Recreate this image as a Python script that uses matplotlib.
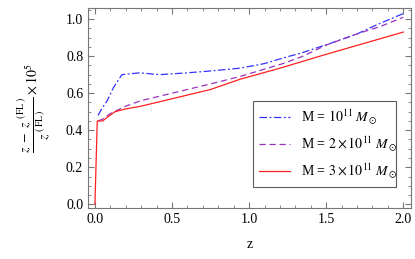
import numpy as np
import matplotlib.pyplot as plt
from matplotlib.ticker import MultipleLocator

plt.rcParams['font.family'] = ['Liberation Serif', 'DejaVu Serif']
plt.rcParams['mathtext.fontset'] = 'stix'

# values
z1 = [0.02, 0.04, 0.08, 0.12, 0.175, 0.29, 0.42, 0.6, 0.75, 0.94, 1.1, 1.22, 1.35, 1.53, 1.7, 1.83, 2.0]
y1 = [0.48, 0.51, 0.56, 0.63, 0.70, 0.71, 0.70, 0.71, 0.72, 0.735, 0.76, 0.79, 0.82, 0.87, 0.92, 0.97, 1.03]

z2 = [0.02, 0.05, 0.1, 0.2, 0.3, 0.5, 0.75, 0.94, 1.1, 1.22, 1.35, 1.5, 1.7, 1.85, 2.0]
y2 = [0.45, 0.46, 0.49, 0.53, 0.56, 0.60, 0.65, 0.69, 0.73, 0.76, 0.80, 0.86, 0.92, 0.96, 1.01]

z3 = [0.0, 0.015, 0.05, 0.08, 0.13, 0.2, 0.3, 0.35, 0.5, 0.75, 0.94, 1.2, 1.5, 1.75, 2.0]
y3 = [0.0, 0.45, 0.45, 0.47, 0.50, 0.515, 0.53, 0.54, 0.57, 0.62, 0.675, 0.735, 0.81, 0.87, 0.93]

labels = [r'M = $10^{11}\ M_\odot$', r'M = $2\times10^{11}\ M_\odot$', r'M = $3\times10^{11}\ M_\odot$']

fig = plt.figure(figsize=(4.15, 2.59), dpi=100)
ax = fig.add_axes([88/415, 51/259, 323/415, 200/259])

ax.plot(z1, y1, color='#3333ff', lw=0.9, dashes=[6, 2, 1.5, 2], label=labels[0])
ax.plot(z2, y2, color='#9933bb', lw=0.9, dashes=[5, 3], label=labels[1])
ax.plot(z3, y3, color='#ff2020', lw=0.9, label=labels[2])

ax.set_xlim(-0.045, 2.05)
ax.set_ylim(-0.02, 1.06)
ax.xaxis.set_major_locator(MultipleLocator(0.5))
ax.xaxis.set_minor_locator(MultipleLocator(0.1))
ax.yaxis.set_major_locator(MultipleLocator(0.2))
ax.yaxis.set_minor_locator(MultipleLocator(0.05))
ax.xaxis.set_major_formatter(plt.FormatStrFormatter('%.1f'))
ax.yaxis.set_major_formatter(plt.FormatStrFormatter('%.1f'))
ax.tick_params(which='both', direction='in', top=True, right=True, color='#777777', labelsize=10)
ax.tick_params(which='major', length=4)
ax.tick_params(which='minor', length=2)
for s in ax.spines.values():
    s.set_color('#777777')
    s.set_linewidth(0.8)

ax.set_xlabel('z', fontsize=10, labelpad=9)
ax.set_ylabel(r'$\dfrac{z\ -\ z^{\ (\,\mathrm{FL}\,)}}{z^{\ (\,\mathrm{FL}\,)}}\times10^{5}$', fontsize=10, labelpad=10)

leg = ax.legend(loc='lower left', bbox_to_anchor=(0.51, 0.105, 0.445, 0.405), mode='expand',
                borderaxespad=0, fontsize=10, frameon=True, fancybox=False, handlelength=2.2,
                borderpad=0.45, labelspacing=0.55)
leg.get_frame().set_edgecolor('#333333')
leg.get_frame().set_linewidth(0.8)

fig.savefig('out.png', dpi=100)
